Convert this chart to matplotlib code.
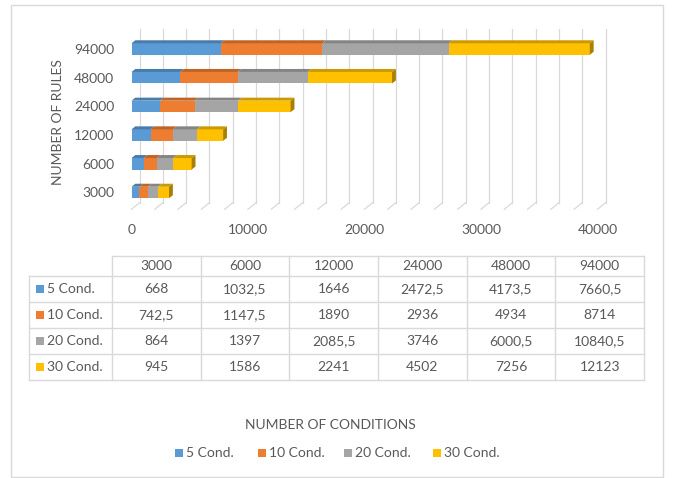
import matplotlib.pyplot as plt
from matplotlib.patches import Polygon, Rectangle
import matplotlib.colors as mcolors

# data
rules = ['3000', '6000', '12000', '24000', '48000', '94000']
series = ['5 Cond.', '10 Cond.', '20 Cond.', '30 Cond.']
cond5 = [668, 1032.5, 1646, 2472.5, 4173.5, 7660.5]
cond10 = [742.5, 1147.5, 1890, 2936, 4934, 8714]
cond20 = [864, 1397, 2085.5, 3746, 6000.5, 10840.5]
cond30 = [945, 1586, 2241, 4502, 7256, 12123]
x_ticks = [0, 10000, 20000, 30000, 40000]

values = [cond5, cond10, cond20, cond30]
colors = ['#5B9BD5', '#ED7D31', '#A5A5A5', '#FFC000']
TXT = '#595959'
GRID = '#d9d9d9'

plt.rcParams['font.family'] = ['Lato', 'DejaVu Sans']

W, H = 675, 478
fig = plt.figure(figsize=(W / 100, H / 100), dpi=100)


def box(x0, y0, x1, y1):
    # pixel box (top-left origin) -> figure fraction
    return [x0 / W, 1 - y1 / H, (x1 - x0) / W, (y1 - y0) / H]


def shade(c, f):
    r, g, b = mcolors.to_rgb(c)
    return (r * f, g * f, b * f)


# overlay for border, table and legend (pixel coords)
oax = fig.add_axes([0, 0, 1, 1])
oax.set_xlim(0, W)
oax.set_ylim(H, 0)
oax.axis('off')
oax.add_patch(Rectangle((10.5, 4.5), 652, 472, fill=False, ec=GRID, lw=1))

# main chart
ax = fig.add_axes(box(131.5, 27.5, 597.5, 209.7))
ax.set_xlim(0, 40000)
ax.set_ylim(-0.6, 5.75)
for s in ax.spines.values():
    s.set_visible(False)
ax.patch.set_alpha(0)

# back wall gridlines + floor
wall_dx = 690
for v in range(0, 40001, 2000):
    ax.plot([v, v + wall_dx], [-0.585, -0.355], color=GRID, lw=0.9, zorder=0, clip_on=False)
    ax.plot([v + wall_dx, v + wall_dx], [-0.355, 5.70], color=GRID, lw=0.9, zorder=0, clip_on=False)

h = 0.40
dxb, dyb = 330, 0.105
ypos = list(range(len(rules)))
left = [0] * len(rules)
for k, (vals, c) in enumerate(zip(values, colors)):
    ax.barh(ypos, vals, left=left, height=h, color=c, lw=0, zorder=2)
    for i, (l, w) in enumerate(zip(left, vals)):
        yt = i + h / 2
        ax.add_patch(Polygon([(l, yt), (l + w, yt), (l + w + dxb, yt + dyb), (l + dxb, yt + dyb)],
                             closed=True, fc=shade(c, 0.8), lw=0, zorder=2, clip_on=False))
        if k == len(values) - 1:
            e = l + w
            ax.add_patch(Polygon([(e, i - h / 2), (e + dxb, i - h / 2 + dyb), (e + dxb, yt + dyb), (e, yt)],
                                 closed=True, fc=shade(c, 0.66), lw=0, zorder=2, clip_on=False))
    left = [a + b for a, b in zip(left, vals)]

ax.set_yticks(ypos)
ax.set_yticklabels(rules)
ax.set_xticks(x_ticks)
ax.set_xticklabels([str(t) for t in x_ticks])
ax.tick_params(axis='both', length=0, labelsize=10, labelcolor=TXT)
ax.tick_params(axis='y', pad=12.5)
ax.tick_params(axis='x', pad=10)

fig.text(57.5 / W, 1 - 122.5 / H, 'NUMBER OF RULES', rotation=90, ha='center', va='center',
         fontsize=10, color=TXT)

# data table
col_x = [112 + k * 88.67 for k in range(len(rules) + 1)]
row_y = [255.7, 276, 301.7, 327.7, 354, 380]
tx0 = 29
lkw = dict(color=GRID, lw=1)
oax.plot([col_x[0], col_x[-1]], [row_y[0], row_y[0]], **lkw)
for y in row_y[1:]:
    oax.plot([tx0, col_x[-1]], [y, y], **lkw)
oax.plot([tx0, tx0], [row_y[1], row_y[-1]], **lkw)
for x in col_x:
    oax.plot([x, x], [row_y[0], row_y[-1]], **lkw)

for j, r in enumerate(rules):
    oax.text((col_x[j] + col_x[j + 1]) / 2, (row_y[0] + row_y[1]) / 2, r,
             ha='center', va='center', fontsize=10, color=TXT)
for k, (name, vals, c) in enumerate(zip(series, values, colors)):
    yc = (row_y[k + 1] + row_y[k + 2]) / 2
    oax.add_patch(Rectangle((36, yc - 4), 8, 8, fc=c, lw=0))
    oax.text(47, yc, name, ha='left', va='center', fontsize=10, color=TXT)
    for j, v in enumerate(vals):
        oax.text((col_x[j] + col_x[j + 1]) / 2, yc, f'{v:g}'.replace('.', ','),
                 ha='center', va='center', fontsize=10, color=TXT)

# axis title + legend
oax.text(330, 425, 'NUMBER OF CONDITIONS', ha='center', va='center', fontsize=10, color=TXT)
leg_x = [175, 258, 344, 433]
for x, name, c in zip(leg_x, series, colors):
    oax.add_patch(Rectangle((x, 449), 8, 8, fc=c, lw=0))
    oax.text(x + 11, 453, name, ha='left', va='center', fontsize=10, color=TXT)

fig.savefig('out.png', dpi=100)
